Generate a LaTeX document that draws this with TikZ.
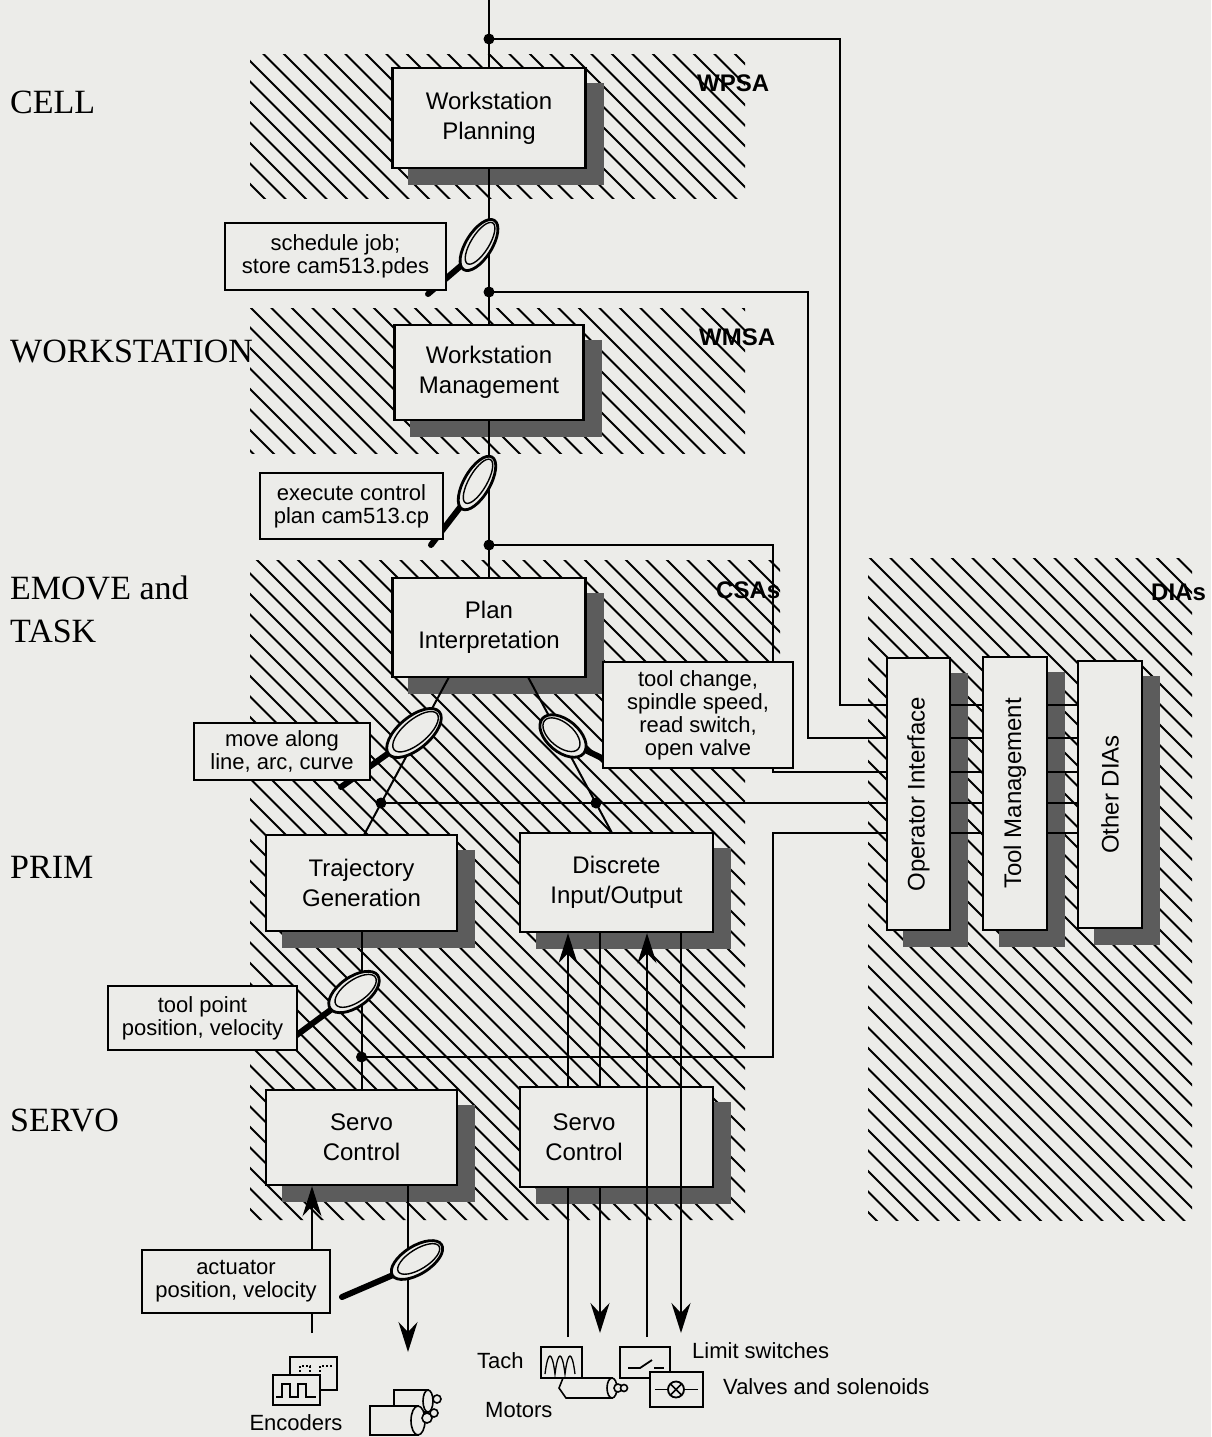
\documentclass[tikz,border=0pt]{standalone}
\usepackage{fontspec}
\usepackage{graphicx}
\setmainfont{Liberation Serif}
\setsansfont{Liberation Sans}
\usetikzlibrary{arrows.meta}
\definecolor{bg}{RGB}{236,236,233}
\definecolor{shadowgray}{RGB}{92,92,92}
\pgfdeclarelayer{back}
\pgfdeclarelayer{shadowl}
\pgfsetlayers{back,shadowl,main}
\newcommand\hatchregion[1]{%
  \begin{scope}
    \clip #1;
    \foreach \i in {-1000,-979.5,...,1160} \draw[hatchline] (\i,0) -- ++(1450,1450);
  \end{scope}}
\newcommand\lensglass[5]{%
  \begin{scope}[shift={(#1,#2)},rotate=#3]
    \draw[line width=2.8pt,fill=bg] (0,0) ellipse [x radius=#4pt,y radius=#5pt];
    \draw[line width=1.4pt] (0,-2) ellipse [x radius=#4pt-4pt,y radius=#5pt-5pt];
  \end{scope}}
\newcommand\shadowof[1]{%
  \fill[shadowgray] ([shift={(17,16)}]#1.north west) rectangle ([shift={(17,16)}]#1.south east);}
\begin{document}
\begin{tikzpicture}[x=1pt,y=-1pt,
  hatchline/.style={line width=1.9pt},
  mainbox/.style={draw,line width=2.4pt,fill=bg,inner sep=0pt,align=center,
     font=\sffamily\fontsize{24}{30}\selectfont},
  diabox/.style={draw,line width=2.4pt,fill=bg,inner sep=0pt,
     font=\sffamily\fontsize{24}{30}\selectfont},
  lblbox/.style={draw,line width=2pt,fill=bg,inner sep=0pt,align=center,
     font=\sffamily\fontsize{22}{23}\selectfont},
  boxtext/.style={inner sep=0pt,align=center,font=\sffamily\fontsize{24}{30}\selectfont},
  conn/.style={line width=2pt},
  arr/.style={line width=2pt,-{Stealth[length=30pt,width=19pt,inset=10pt]}},
  handle/.style={line width=6pt,line cap=round},
  lvl/.style={anchor=west,align=left,inner sep=0pt,font=\rmfamily\fontsize{34}{43}\selectfont},
  area/.style={anchor=west,inner sep=0pt,font=\sffamily\bfseries\fontsize{24}{28}\selectfont},
  small/.style={inner sep=0pt,font=\sffamily\fontsize{22}{26}\selectfont},
  icon/.style={line width=1.6pt,fill=bg},
  thin/.style={line width=1.3pt}]
\useasboundingbox (0,0) rectangle (1211,1437);
\begin{pgfonlayer}{back}
  \fill[bg] (0,0) rectangle (1211,1437);
  \hatchregion{(250,55) rectangle (745,198)}
  \hatchregion{(250,308) rectangle (745,453)}
  \hatchregion{(250,560) -- (780,560) -- (780,700) -- (745,700) -- (745,1220) -- (250,1220) -- cycle}
  \hatchregion{(868,558) rectangle (1192,1220)}
\end{pgfonlayer}

% level labels
\node[lvl] (cell) at (10,102) {CELL};
\node[lvl] (ws) at (10,351) {WORKSTATION};
\node[lvl] (emove) at (10,609) {EMOVE and\\TASK};
\node[lvl] (prim) at (10,867) {PRIM};
\node[lvl] (servo) at (10,1120) {SERVO};

% area labels
\node[area] (wpsa) at (697,83) {WPSA};
\node[area] (wmsa) at (699,337) {WMSA};
\node[area] (csas) at (716,590) {CSAs};
\node[area] (dias) at (1151,592) {DIAs};

% main boxes
\node[mainbox,minimum width=193pt,minimum height=100pt] (wp) at (489,118) {Workstation\\Planning};
\node[mainbox,minimum width=189pt,minimum height=95pt] (wm) at (489,372.5) {Workstation\\Management};
\node[mainbox,minimum width=193pt,minimum height=99pt] (pi) at (489,627.5) {Plan\\Interpretation};
\node[mainbox,minimum width=191pt,minimum height=96pt] (tg) at (361.5,883) {Trajectory\\Generation};
\node[mainbox,minimum width=193pt,minimum height=99pt] (dio) at (616.5,882.5) {Discrete\\Input/Output};
\node[mainbox,minimum width=191pt,minimum height=95pt] (sc1) at (361.5,1137.5) {Servo\\Control};
\node[mainbox,minimum width=193pt,minimum height=100pt] (sc2) at (616.5,1137) {};
\node[boxtext] (sc2t) at (584,1137) {Servo\\Control};
\node[diabox,minimum width=63pt,minimum height=272pt] (oi) at (918.5,794) {\rotatebox{90}{Operator Interface}};
\node[diabox,minimum width=64pt,minimum height=273pt] (tm) at (1015,793.5) {\rotatebox{90}{Tool Management}};
\node[diabox,minimum width=64pt,minimum height=267pt] (od) at (1110,794.5) {\rotatebox{90}{Other DIAs}};

\begin{pgfonlayer}{shadowl}
  \foreach \n in {wp,wm,pi,tg,dio,sc1,sc2,oi,tm,od} {\shadowof{\n}}
\end{pgfonlayer}

% junctions
\coordinate (topin) at (489,0);
\coordinate (j1) at (489,39);
\coordinate (j2) at (489,292);
\coordinate (j3) at (489,545);
\coordinate (oiA) at (887,705);
\coordinate (oiB) at (887,738);
\coordinate (oiC) at (887,772);
\coordinate (oiD) at (887,803);
\coordinate (oiE) at (887,833);
\coordinate (b1) at (381,803);
\coordinate (b2) at (596,803);
\coordinate (s1) at (361.5,1057);
\coordinate (pi1) at (449,677);
\coordinate (tg1) at (364,835);
\coordinate (pi2) at (528,677);
\coordinate (dio1) at (612,833);

% connectors
\draw[conn] (topin) -- (wp.north);
\draw[conn] (wp.south) -- (wm.north);
\draw[conn] (wm.south) -- (pi.north);
\draw[conn] (j1) -- (840,39) -- (840,705) -- (oiA);
\draw[conn] (j2) -- (808,292) -- (808,738) -- (oiB);
\draw[conn] (j3) -- (773,545) -- (773,772) -- (oiC);
\draw[conn] (b1) -- (oiD);
\draw[conn] (pi1) -- (tg1);
\draw[conn] (pi2) -- (dio1);
\draw[conn] (tg.south) -- (sc1.north);
\draw[conn] (s1) -- (773,1057) -- (773,833) -- (oiE);
\foreach \c in {oiA,oiB,oiC,oiD,oiE} {
  \draw[conn] (oi.east |- \c) -- (tm.west |- \c);
  \draw[conn] (tm.east |- \c) -- (od.west |- \c);
}

% discrete I/O and servo lines
\coordinate (tachin) at (568,1337);
\coordinate (motin) at (600,1333);
\coordinate (limin) at (647,1337);
\coordinate (valin) at (681,1333);
\draw[conn] (tachin) -- (tachin |- sc2.south);
\draw[arr] (tachin |- sc2.north) -- (tachin |- dio.south);
\draw[conn] (motin |- dio.south) -- (motin |- sc2.north);
\draw[arr] (motin |- sc2.south) -- (motin);
\draw[arr] (limin) -- (limin |- dio.south);
\draw[arr] (valin |- dio.south) -- (valin);
\coordinate (encin) at (312,1333);
\coordinate (motout) at (408,1352);
\draw[arr] (encin) -- (encin |- sc1.south);
\draw[arr] (motout |- sc1.south) -- (motout);

% magnifier handles
\draw[handle] (470,258) -- (428,294);
\draw[handle] (468,497) -- (431,545);
\draw[handle] (400,745) -- (341,787);
\draw[handle] (575,745) -- (612,763);
\draw[handle] (340,1003) -- (290,1040);
\draw[handle] (400,1272) -- (342,1297);

% label boxes
\node[lblbox,minimum width=221pt,minimum height=67pt] (lsched) at (335.5,256.5) {schedule job;\\store cam513.pdes};
\node[lblbox,minimum width=183pt,minimum height=66pt] (lexec) at (351.5,506) {execute control\\plan cam513.cp};
\node[lblbox,minimum width=176pt,minimum height=57pt] (lmove) at (282,751.5) {move along\\line, arc, curve};
\node[lblbox,minimum width=190pt,minimum height=106pt] (ltool) at (698,715) {tool change,\\spindle speed,\\read switch,\\open valve};
\node[lblbox,minimum width=189pt,minimum height=64pt] (ltp) at (202.5,1018) {tool point\\position, velocity};
\node[lblbox,minimum width=188pt,minimum height=63pt] (lact) at (236,1281.5) {actuator\\position, velocity};

% lenses
\lensglass{479}{245}{-32}{13}{29}
\lensglass{477}{483}{-30}{13}{30}
\lensglass{414}{733}{-50}{16}{33}
\lensglass{563}{736}{50}{16}{27}
\lensglass{354}{992}{-55}{15}{29}
\lensglass{417}{1260}{-58}{14}{29}

% dots
\foreach \d in {j1,j2,j3,b1,b2,s1} \fill (\d) circle (5.5pt);

% encoders
\draw[icon] (290,1357) rectangle (337,1390);
\draw[thin,dash pattern=on 2pt off 2pt] (294,1382) -- (300,1382) -- (300,1366) -- (310,1366) -- (310,1382) -- (320,1382) -- (320,1366) -- (333,1366);
\draw[icon] (273,1375) rectangle (320,1405);
\draw[thin] (276,1397) -- (282,1397) -- (282,1384) -- (290,1384) -- (290,1397) -- (298,1397) -- (298,1384) -- (306,1384) -- (306,1397) -- (316,1397);
\node[small] (encl) at (296,1423) {Encoders};

% motor pair under servo 1
\draw[icon] (394,1390) rectangle (428,1412);
\draw[icon] (428,1401) ellipse [x radius=5pt,y radius=11pt];
\draw[icon] (437,1399) circle (4pt);
\draw[icon] (370,1406) rectangle (418,1435);
\draw[icon] (418,1420.5) ellipse [x radius=7pt,y radius=14.5pt];
\draw[icon] (427,1418) circle (5pt);
\draw[icon] (434,1413) circle (4pt);

% tach, motor, switches, valves
\draw[icon] (541,1347) rectangle (582,1378);
\draw[thin] (545,1374) .. controls (548,1350) and (552,1350) .. (555,1374) .. controls (558,1350) and (562,1350) .. (565,1374) .. controls (568,1350) and (572,1350) .. (575,1374);
\draw[icon] (563,1378) -- (612,1378) -- (612,1398) -- (566,1398) -- (559,1388) -- cycle;
\draw[icon] (612,1388) ellipse [x radius=5pt,y radius=10pt];
\draw[icon] (618,1388) circle (4pt);
\draw[icon] (624,1388) circle (3.5pt);
\draw[icon] (620,1347) rectangle (670,1378);
\draw[line width=1.8pt] (628,1368) -- (640,1368) -- (652,1360);
\draw[line width=1.8pt] (654,1368) -- (664,1368);
\draw[icon] (650,1372) rectangle (703,1407);
\draw[line width=1.8pt] (655,1389.5) -- (668,1389.5);
\draw[line width=1.8pt] (684,1389.5) -- (698,1389.5);
\draw[line width=1.8pt] (676,1389.5) circle (8pt);
\draw[line width=1.6pt] (670.5,1384) -- (681.5,1395) (670.5,1395) -- (681.5,1384);
\node[small,anchor=west] (tachl) at (477,1361) {Tach};
\node[small,anchor=west] (motl) at (485,1410) {Motors};
\node[small,anchor=west] (liml) at (692,1351) {Limit switches};
\node[small,anchor=west] (vall) at (723,1387) {Valves and solenoids};
\end{tikzpicture}
\end{document}
